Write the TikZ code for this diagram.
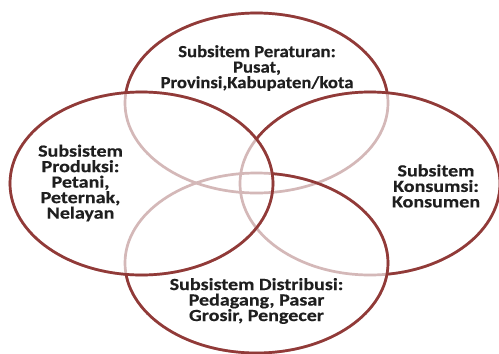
\documentclass[tikz,border=0pt]{standalone}
\usepackage{fontspec}
\setmainfont{Carlito}[FakeStretch=1.18,FakeBold=0.35]
\newfontfamily\topfont{Carlito}[FakeStretch=1.1,FakeBold=0.35]
\definecolor{ringstrong}{RGB}{145,58,56}
\definecolor{ringfaint}{RGB}{212,184,184}
\begin{document}
\begin{tikzpicture}[x=1pt,y=-1pt,
  ring/.style={line width=2.7pt},
  lbl/.style={font=\bfseries\fontsize{17}{15.5}\selectfont, align=center, text=black!88, inner sep=0pt}]
\useasboundingbox[fill=white] (0,0) rectangle (499,354);
\coordinate (cT) at (256.5,103);
\coordinate (cL) at (141.5,183.5);
\coordinate (cR) at (370,183.5);
\coordinate (cB) at (256.5,263);
% faded full rings
\draw[ring, ringfaint] (cT) ellipse [x radius=131.5, y radius=90];
\draw[ring, ringfaint] (cL) ellipse [x radius=131.5, y radius=91.5];
\draw[ring, ringfaint] (cR) ellipse [x radius=130, y radius=91.5];
\draw[ring, ringfaint] (cB) ellipse [x radius=131.5, y radius=90];
% left ring: strong everywhere
\draw[ring, ringstrong] (cL) ellipse [x radius=131.5, y radius=91.5];
% top ring: strong outside left and right
\begin{scope}[even odd rule]
  \clip (-20,-20) rectangle (520,380) (cL) ellipse [x radius=131.5, y radius=91.5];
  \begin{scope}[even odd rule]
    \clip (-20,-20) rectangle (520,380) (cR) ellipse [x radius=130, y radius=91.5];
    \draw[ring, ringstrong] (cT) ellipse [x radius=131.5, y radius=90];
  \end{scope}
\end{scope}
% right ring: strong outside left and bottom
\begin{scope}[even odd rule]
  \clip (-20,-20) rectangle (520,380) (cL) ellipse [x radius=131.5, y radius=91.5];
  \begin{scope}[even odd rule]
    \clip (-20,-20) rectangle (520,380) (cB) ellipse [x radius=131.5, y radius=90];
    \draw[ring, ringstrong] (cR) ellipse [x radius=130, y radius=91.5];
  \end{scope}
\end{scope}
% bottom ring: strong outside left
\begin{scope}[even odd rule]
  \clip (-20,-20) rectangle (520,380) (cL) ellipse [x radius=131.5, y radius=91.5];
  \draw[ring, ringstrong] (cB) ellipse [x radius=131.5, y radius=90];
\end{scope}
% labels
\node[lbl, font=\topfont\bfseries\fontsize{17}{15.5}\selectfont] (tTop) at (257,68) {Subsitem Peraturan:\\Pusat,\\Provinsi,Kabupaten/kota};
\node[lbl] (tLeft) at (80.5,183) {Subsistem\\Produksi:\\Petani,\\Peternak,\\Nelayan};
\node[lbl] (tRight) at (436,186) {Subsitem\\Konsumsi:\\Konsumen};
\node[lbl] (tBottom) at (256.5,301) {Subsistem Distribusi:\\Pedagang, Pasar\\Grosir, Pengecer};
\end{tikzpicture}
\end{document}
